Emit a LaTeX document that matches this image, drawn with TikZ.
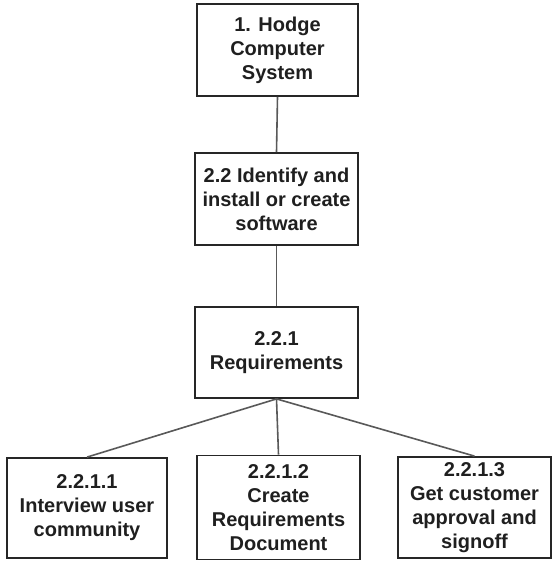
\documentclass[tikz,border=0pt]{standalone}
\usepackage{fontspec}
\setmainfont{Liberation Sans}
\begin{document}
\begin{tikzpicture}[x=1pt,y=-1pt,
  wbs/.style={draw=black!85, line width=1.8pt, fill=white, align=center,
    inner sep=0pt, text=black!88,
    font=\fontsize{20}{24}\selectfont\bfseries},
  link/.style={draw=black!65, line width=1.6pt}]
  \useasboundingbox[fill=white] (0,0) rectangle (553,561);

  % work breakdown boxes
  \node[wbs, minimum width=161pt, minimum height=92pt] (sys) at (277.5,50)
    {1. Hodge\\Computer\\System};
  \node[wbs, minimum width=163pt, minimum height=92pt] (soft) at (276.5,199)
    {2.2 Identify and\\install or create\\software};
  \node[wbs, minimum width=163pt, minimum height=91pt] (req) at (276.5,352.5)
    {2.2.1\\Requirements};
  \node[wbs, minimum width=160pt, minimum height=100pt] (int) at (87,508)
    {2.2.1.1\\Interview user\\community};
  \node[wbs, minimum width=163pt, minimum height=104pt] (doc) at (278.5,507.5)
    {2.2.1.2\\Create\\Requirements\\Document};
  \node[wbs, minimum width=153pt, minimum height=101pt] (sign) at (474.5,507.5)
    {2.2.1.3\\Get customer\\approval and\\signoff};

  % connectors
  \draw[link] (sys.south) -- (soft.north);
  \draw[link] (soft.south) -- (req.north);
  \draw[link] (req.south) -- (int.north);
  \draw[link] (req.south) -- (doc.north);
  \draw[link] (req.south) -- (sign.north);
\end{tikzpicture}
\end{document}
